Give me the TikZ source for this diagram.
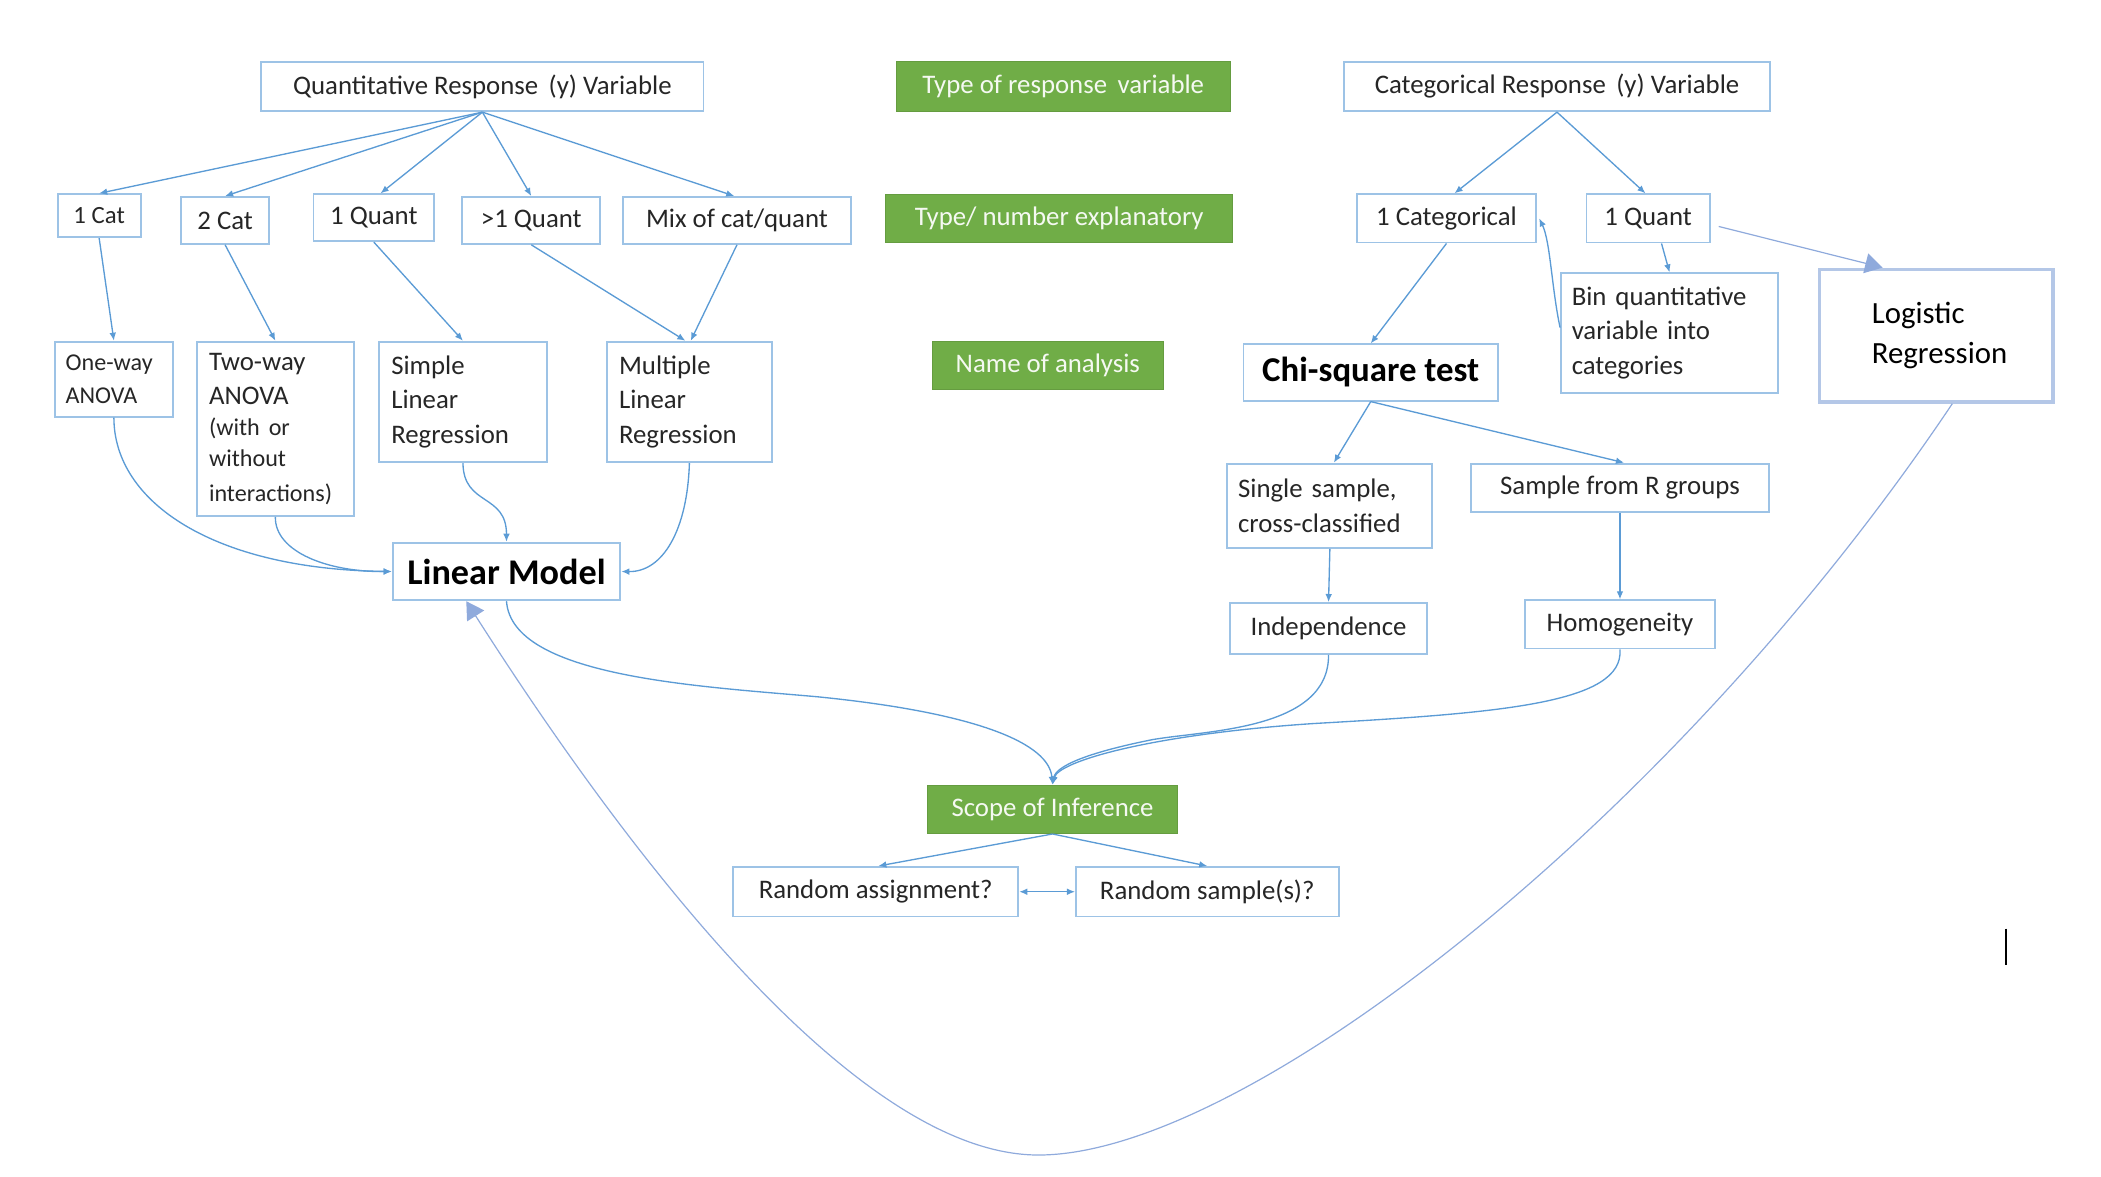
\documentclass[tikz,border=0pt]{standalone}
\usepackage{fontspec}
\setmainfont{Carlito}
\usetikzlibrary{arrows.meta}
\definecolor{boxblue}{HTML}{9DC3E6}
\definecolor{arrblue}{HTML}{5B9BD5}
\definecolor{lightarr}{HTML}{8FAADC}
\definecolor{logiblue}{HTML}{B4C7E7}
\definecolor{grn}{HTML}{70AD47}
\definecolor{txt}{HTML}{262626}
\newcommand{\fs}[2]{\fontsize{#1}{#2}\selectfont}
\tikzset{
  bb/.style n args={4}{at={({(#1+#3)/2},{(#2+#4)/2})}, minimum width={(#3-#1)*1pt}, minimum height={(#4-#2)*1pt}},
  box/.style={draw=boxblue, line width=1.4pt, inner sep=0pt, text=txt, font=\fs{20}{26}},
  gbox/.style={fill=grn, draw=grn!90!black, line width=0.8pt, inner sep=0pt, text=white!93!grn, font=\fs{20}{26}},
  multi/.style={align=left, text width=#1},
  conn/.style={draw=arrblue, line width=1pt, -{Latex[length=6pt,width=5pt]}},
  bigconn/.style={draw=lightarr, line width=0.9pt, -{Triangle[length=13pt,width=15pt,color=lightarr]}},
}
\begin{document}
\begin{tikzpicture}[x=1pt,y=-1pt]
\useasboundingbox (0,0) rectangle (1568,878.4);
% top row
\node[box, bb={195}{46}{525}{83}] (qr) {Quantitative Response \,(y) Variable};
\node[gbox, bb={669}{46}{918}{83}] (g1) {Type of response \,variable};
\node[box, bb={1003}{46}{1321}{83}] (cr) {Categorical Response \,(y) Variable};
% second row
\node[box, bb={43}{145}{105}{177}, font=\fs{18.5}{24}] (c1) {1 Cat};
\node[box, bb={135}{147}{201}{182}] (c2) {2 Cat};
\node[box, bb={234}{145}{324}{180}] (q1) {1 Quant};
\node[box, bb={345}{147}{448}{182}] (qg) {>1 Quant};
\node[box, bb={465}{147}{635}{182}] (mix) {Mix of cat/quant};
\node[gbox, bb={661}{145}{920}{181}] (g2) {Type/ number explanatory};
\node[box, bb={1013}{145}{1146}{181}] (cat1) {1 Categorical};
\node[box, bb={1184}{145}{1276}{181}] (q1r) {1 Quant};
% third row
\node[box, bb={41}{255}{129}{311}, multi=72pt, font=\fs{18}{24}] (ow) {One-way\\ANOVA};
\node[box, bb={147}{255}{264}{385}, multi=99pt] (tw) {Two-way\\ANOVA\\[0pt]{\fs{18}{23}(with or\\without\\interactions)}};
\node[box, bb={283}{255}{408}{345}, multi=107pt] (slr) {Simple\\Linear\\Regression};
\node[box, bb={453}{255}{576}{345}, multi=105pt] (mlr) {Multiple\\Linear\\Regression};
\node[gbox, bb={696}{255}{868}{291}] (g3) {Name of analysis};
\node[box, bb={928}{257}{1118}{299}, text=black, font=\bfseries\fs{26}{30}] (chi) {Chi-square test};
\node[box, bb={1165}{204}{1327}{293}, multi=146pt] (bin) {Bin quantitative\\variable into\\categories};
\node[draw=logiblue, line width=2.6pt, inner sep=0pt, text=black, font=\fs{23}{30}, bb={1358}{201}{1532}{300}, align=left, text width=96pt] (logit) {Logistic\\Regression};
% lower
\node[box, bb={293}{405}{463}{448}, text=black, font=\bfseries\fs{27}{30}] (lm) {Linear Model};
\node[box, bb={916}{346}{1069}{409}, multi=137pt] (ss) {Single sample,\\cross-classified};
\node[box, bb={1098}{346}{1320}{382}] (sr) {Sample from R groups};
\node[box, bb={918}{450}{1065}{488}] (ind) {Independence};
\node[box, bb={1138}{448}{1280}{484}] (hom) {Homogeneity};
\node[gbox, bb={692}{586}{879}{622}] (scope) {Scope of Inference};
\node[box, bb={547}{647}{760}{684}] (ra) {Random assignment?};
\node[box, bb={803}{647}{999}{684}] (rs) {Random sample(s)?};
% cursor mark
\coordinate (cur1) at (1497,693);
\coordinate (cur2) at (1497,720);
\draw[black, line width=1.4pt] (cur1) -- (cur2);
% connectors from quantitative response
\draw[conn] (qr.south) -- (c1.north);
\draw[conn] (qr.south) -- (c2.north);
\draw[conn] (qr.south) -- ([xshift=5pt]q1.north);
\draw[conn] (qr.south) -- (qg.north);
\draw[conn] (qr.south) -- ([xshift=-2pt]mix.north);
\draw[conn] (c1.south) -- (ow.north);
\draw[conn] (c2.south) -- (tw.north);
\draw[conn] (q1.south) -- (slr.north);
\draw[conn] (qg.south) -- ([xshift=-3pt]mlr.north);
\draw[conn] (mix.south) -- ([xshift=1pt]mlr.north);
% into linear model
\draw[conn] (ow.south) .. controls (85,375) and (160,425) .. (lm.west);
\draw[conn] (tw.south) .. controls (205,412) and (245,427) .. (lm.west);
\draw[conn] (slr.south) .. controls (346,378) and (378,368) .. (lm.north);
\draw[conn] (mlr.south) .. controls (513,395) and (495,427) .. (lm.east);
% to scope
\draw[conn] (lm.south) .. controls (382,505) and (520,512) .. (610,520) .. controls (730,532) and (783,555) .. (scope.north);
\draw[conn] (ind.south) .. controls (992,545) and (900,545) .. (860,552) .. controls (810,562) and (788,572) .. (scope.north);
\draw[conn] (hom.south) .. controls (1212,525) and (1120,532) .. (980,540) .. controls (860,548) and (790,568) .. (scope.north);
% categorical side
\draw[conn] (cr.south) -- ([xshift=6pt]cat1.north);
\draw[conn] (cr.south) -- ([xshift=-2pt]q1r.north);
\draw[conn] (cat1.south) -- (chi.north);
\draw[conn] ([xshift=10pt]q1r.south) -- (bin.north);
\draw[conn] ([yshift=4pt]bin.west) .. controls (1158,215) and (1157,180) .. ([xshift=2pt]cat1.east);
\draw[conn] (chi.south) -- ([xshift=3pt]ss.north);
\draw[conn] (chi.south) -- ([xshift=3pt]sr.north);
\draw[conn] (ss.south) -- (ind.north);
\draw[conn] (sr.south) -- (hom.north);
% scope of inference
\draw[conn] (scope.south) -- ([xshift=2pt]ra.north);
\draw[conn] (scope.south) -- (rs.north);
\draw[draw=arrblue, line width=1pt, {Latex[length=6pt,width=5pt]}-{Latex[length=6pt,width=5pt]}] (ra.east) -- (rs.west);
% logistic
\draw[bigconn] ([xshift=6pt,yshift=-6pt]q1r.east) -- ([xshift=-40pt]logit.north);
\draw[bigconn] ([xshift=12pt]logit.south) .. controls (1250,610) and (930,862) .. (775,862) .. controls (640,862) and (470,640) .. ([xshift=-30pt]lm.south);
\end{tikzpicture}
\end{document}
